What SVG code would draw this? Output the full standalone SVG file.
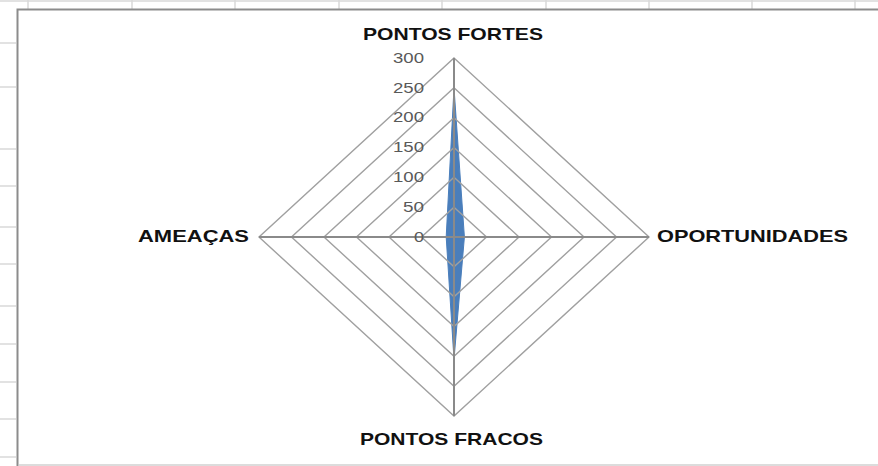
<svg xmlns="http://www.w3.org/2000/svg" width="878" height="466" viewBox="0 0 878 466">
<style>
.cell{stroke:#d9d9d9;stroke-width:1.5;fill:none}
.ring{stroke:#a0a0a0;stroke-width:1.4;fill:none}
.spoke{stroke:#8a8a8a;stroke-width:2;fill:none}
.cat{font-family:"Liberation Sans",Arial,sans-serif;font-weight:bold;font-size:17px;fill:#111}
.tick{font-family:"Liberation Sans",Arial,sans-serif;font-size:14px;fill:#595959;text-anchor:end}
</style>
<rect width="878" height="466" fill="#ffffff"/>
<g id="sheet">
<line class="cell" x1="0" y1="1" x2="878" y2="1"/>
<line class="cell" x1="28" y1="0" x2="28" y2="9"/>
<line class="cell" x1="132" y1="0" x2="132" y2="9"/>
<line class="cell" x1="235" y1="0" x2="235" y2="9"/>
<line class="cell" x1="339" y1="0" x2="339" y2="9"/>
<line class="cell" x1="442" y1="0" x2="442" y2="9"/>
<line class="cell" x1="546" y1="0" x2="546" y2="9"/>
<line class="cell" x1="649" y1="0" x2="649" y2="9"/>
<line class="cell" x1="752" y1="0" x2="752" y2="9"/>
<line class="cell" x1="855" y1="0" x2="855" y2="9"/>
<line class="cell" x1="0" y1="43" x2="16" y2="43"/>
<line class="cell" x1="0" y1="87" x2="16" y2="87"/>
<line class="cell" x1="0" y1="149" x2="16" y2="149"/>
<line class="cell" x1="0" y1="186" x2="16" y2="186"/>
<line class="cell" x1="0" y1="227" x2="16" y2="227"/>
<line class="cell" x1="0" y1="264" x2="16" y2="264"/>
<line class="cell" x1="0" y1="306" x2="16" y2="306"/>
<line class="cell" x1="0" y1="344" x2="16" y2="344"/>
<line class="cell" x1="0" y1="382" x2="16" y2="382"/>
<line class="cell" x1="0" y1="419" x2="16" y2="419"/>
<line class="cell" x1="0" y1="457" x2="16" y2="457"/>
</g>
<g id="chart-frame">
<path d="M17.5,466 V9.5 H878" fill="none" stroke="#8c8c8c" stroke-width="2"/>
<line x1="19" y1="465" x2="878" y2="465" stroke="#d0d0d0" stroke-width="1.5"/>
</g>
<g id="series">
<polygon points="454,88 464.4,237 454,359.3 446.2,237" fill="#4a7ebb" stroke="#4a7ebb" stroke-width="1"/>
</g>
<g id="grid">
<polygon class="ring" points="454,207.2 486.5,237 454,266.8 421.5,237"/>
<polygon class="ring" points="454,177.3 519,237 454,296.7 389,237"/>
<polygon class="ring" points="454,147.5 551.5,237 454,326.5 356.5,237"/>
<polygon class="ring" points="454,117.7 584,237 454,356.3 324,237"/>
<polygon class="ring" points="454,87.8 616.5,237 454,386.2 291.5,237"/>
<polygon class="ring" points="454,58 649,237 454,416 259,237"/>
</g>
<g id="connectors">
<line class="spoke" x1="454" y1="58" x2="454" y2="416"/>
<line class="spoke" x1="259" y1="237" x2="649" y2="237"/>
</g>
<g id="ticks">
<text class="tick" x="424" y="63" textLength="31" lengthAdjust="spacingAndGlyphs">300</text>
<text class="tick" x="424" y="93" textLength="31" lengthAdjust="spacingAndGlyphs">250</text>
<text class="tick" x="424" y="122" textLength="31" lengthAdjust="spacingAndGlyphs">200</text>
<text class="tick" x="424" y="152" textLength="31" lengthAdjust="spacingAndGlyphs">150</text>
<text class="tick" x="424" y="182" textLength="31" lengthAdjust="spacingAndGlyphs">100</text>
<text class="tick" x="424" y="212" textLength="21" lengthAdjust="spacingAndGlyphs">50</text>
<text class="tick" x="424" y="242" textLength="10" lengthAdjust="spacingAndGlyphs">0</text>
</g>
<g id="node-pontos-fortes">
<text class="cat" x="363" y="40" textLength="180" lengthAdjust="spacingAndGlyphs">PONTOS FORTES</text>
</g>
<g id="node-oportunidades">
<text class="cat" x="657" y="242" textLength="191" lengthAdjust="spacingAndGlyphs">OPORTUNIDADES</text>
</g>
<g id="node-pontos-fracos">
<text class="cat" x="360" y="445" textLength="183" lengthAdjust="spacingAndGlyphs">PONTOS FRACOS</text>
</g>
<g id="node-ameacas">
<text class="cat" x="138" y="242" textLength="111" lengthAdjust="spacingAndGlyphs">AMEAÇAS</text>
</g>
</svg>
